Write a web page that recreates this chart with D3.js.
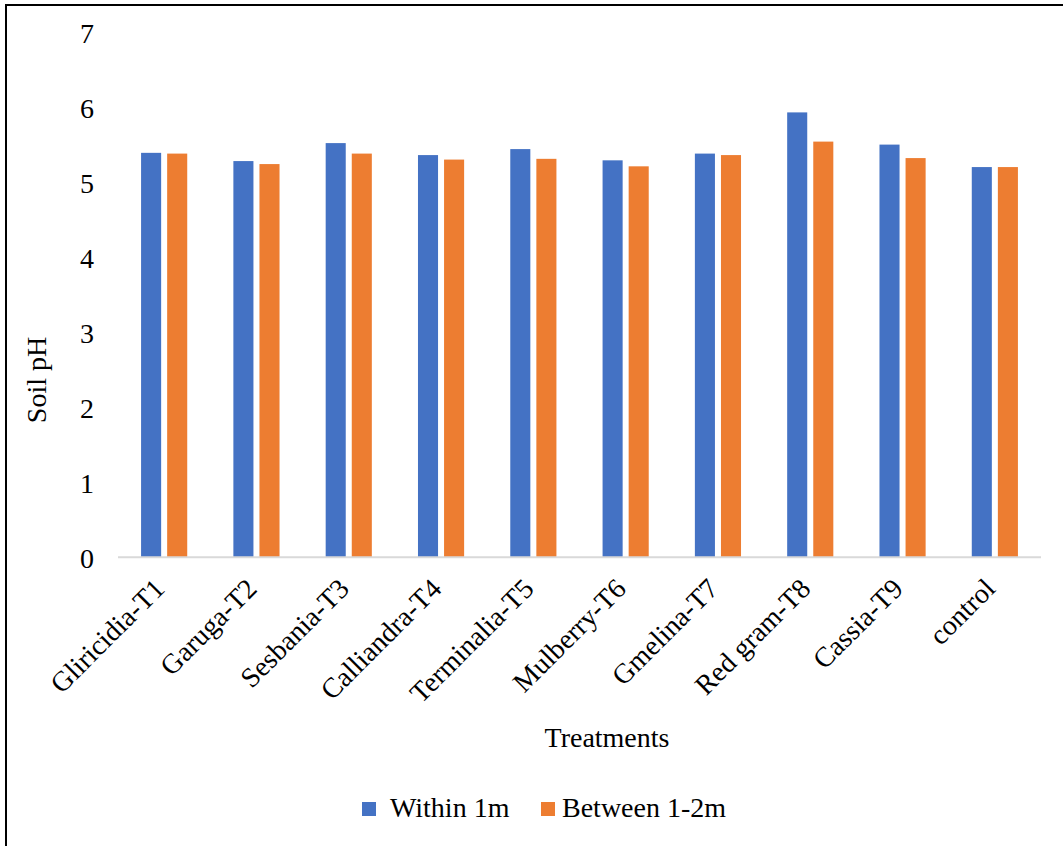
<!DOCTYPE html>
<html>
<head>
<meta charset="utf-8">
<script src="https://cdn.jsdelivr.net/npm/d3@7"></script>
<style>
  html, body { margin: 0; padding: 0; background: #fff; }
  svg { display: block; }
  text { font-family: "Liberation Serif", "Times New Roman", serif; fill: #000; }
</style>
</head>
<body>
<svg id="chart" width="1063" height="846"></svg>
<script>
// Soil pH by treatment, measured at two distances from the tree
const categories = ["Gliricidia-T1", "Garuga-T2", "Sesbania-T3", "Calliandra-T4", "Terminalia-T5",
                    "Mulberry-T6", "Gmelina-T7", "Red gram-T8", "Cassia-T9", "control"];
const seriesNames = ["Within 1m", "Between 1-2m"];
const within1m  = [5.40, 5.29, 5.53, 5.37, 5.45, 5.30, 5.39, 5.94, 5.51, 5.21];
const between12 = [5.39, 5.25, 5.39, 5.31, 5.32, 5.22, 5.37, 5.55, 5.33, 5.21];
const colors = ["#4472C4", "#ED7D31"];
const yTicks = [0, 1, 2, 3, 4, 5, 6, 7];

const svg = d3.select("#chart");
const fontSize = 28;

// outer frame (left and top edges visible)
svg.append("rect")
  .attr("x", 6).attr("y", 5)
  .attr("width", 1070).attr("height", 860)
  .attr("fill", "none").attr("stroke", "#000").attr("stroke-width", 2);

const plot = { left: 118, right: 1041, top: 33, bottom: 557.3 };

const y = d3.scaleLinear().domain([0, 7]).range([plot.bottom, plot.top]);
const x0 = d3.scaleBand().domain(categories).range([plot.left, plot.right])
  .paddingInner(0.5).paddingOuter(0.25);
const x1 = d3.scaleBand().domain(seriesNames).range([0, x0.bandwidth()])
  .paddingInner(6 / 26);

const rows = categories.map((c, i) => ({ cat: c, vals: [within1m[i], between12[i]] }));

// bars
const groups = svg.append("g").selectAll("g").data(rows).join("g")
  .attr("transform", d => `translate(${x0(d.cat)},0)`);
groups.selectAll("rect")
  .data(d => d.vals.map((v, k) => ({ name: seriesNames[k], v, k })))
  .join("rect")
  .attr("x", d => x1(d.name))
  .attr("width", x1.bandwidth())
  .attr("y", d => y(d.v))
  .attr("height", d => y(0) - y(d.v))
  .attr("fill", d => colors[d.k]);

// x axis line
svg.append("line")
  .attr("x1", plot.left).attr("x2", plot.right)
  .attr("y1", y(0)).attr("y2", y(0))
  .attr("stroke", "#d9d9d9").attr("stroke-width", 2);

// y tick labels
const yAxis = d3.axisLeft(y).tickValues(yTicks).tickSize(0).tickPadding(0).tickFormat(d3.format("d"));
const gy = svg.append("g").attr("transform", "translate(94,0)").call(yAxis);
gy.select(".domain").remove();
gy.selectAll("text").attr("font-size", fontSize)
  .attr("dy", "0.35em").attr("x", 0);

// x tick labels, rotated
const xAxis = d3.axisBottom(x0).tickSize(0).tickPadding(0);
const gx = svg.append("g").attr("transform", `translate(0,${y(0)})`).call(xAxis);
gx.select(".domain").remove();
gx.selectAll("text")
  .attr("font-size", fontSize)
  .attr("text-anchor", "end")
  .attr("dy", null).attr("y", null)
  .attr("transform", "translate(2,33) rotate(-45)");

// axis titles
svg.append("text")
  .attr("x", 607).attr("y", 747)
  .attr("text-anchor", "middle").attr("font-size", fontSize)
  .text("Treatments");
svg.append("text")
  .attr("transform", "translate(46,380) rotate(-90)")
  .attr("text-anchor", "middle").attr("font-size", fontSize)
  .text("Soil pH");

// legend
const legendPos = [{ sx: 362, tx: 390 }, { sx: 541, tx: 562 }];
const lg = svg.append("g").selectAll("g").data(seriesNames).join("g");
lg.append("rect")
  .attr("x", (d, i) => legendPos[i].sx).attr("y", 802)
  .attr("width", 14).attr("height", 14)
  .attr("fill", (d, i) => colors[i]);
lg.append("text")
  .attr("x", (d, i) => legendPos[i].tx).attr("y", 817)
  .attr("font-size", fontSize)
  .text(d => d);
</script>
</body>
</html>
